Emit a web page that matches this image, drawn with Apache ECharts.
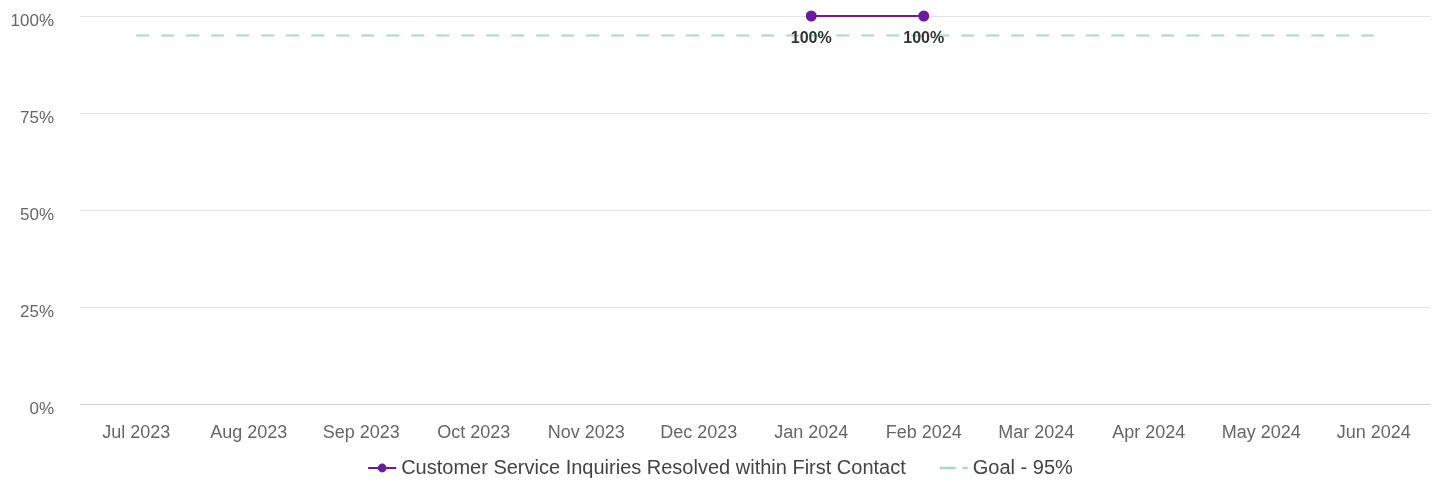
<!DOCTYPE html>
<html>
<head>
<meta charset="utf-8">
<script src="https://cdn.jsdelivr.net/npm/echarts@6/dist/echarts.min.js"></script>
<style>
  html, body { margin: 0; padding: 0; background: #fff; }
  #chart { width: 1440px; height: 491px; }
</style>
</head>
<body>
<div id="chart"></div>
<script>
const months = ["Jul 2023", "Aug 2023", "Sep 2023", "Oct 2023", "Nov 2023", "Dec 2023",
  "Jan 2024", "Feb 2024", "Mar 2024", "Apr 2024", "May 2024", "Jun 2024"];
const resolved = [null, null, null, null, null, null, 100, 100, null, null, null, null];
const goal = [95, 95, 95, 95, 95, 95, 95, 95, 95, 95, 95, 95];
const yTicks = [0, 25, 50, 75, 100];

const chart = echarts.init(document.getElementById("chart"));
const font = "Liberation Sans, Arial, sans-serif";

chart.setOption({
  animation: false,
  textStyle: { fontFamily: font },
  grid: { left: 80, right: 10, top: 16, bottom: 87 },
  legend: {
    bottom: 8,
    itemGap: 34,
    itemWidth: 28,
    itemHeight: 11,
    textStyle: { fontSize: 20, color: "#444", fontFamily: font },
    data: [
      { name: "Customer Service Inquiries Resolved within First Contact" },
      { name: "Goal - 95%", icon: "path://M0,4 L12,4 L12,6 L0,6 Z M17,4 L21,4 L21,6 L17,6 Z" }
    ]
  },
  xAxis: {
    type: "category",
    data: months,
    boundaryGap: true,
    axisLine: { lineStyle: { color: "#d3d3ea" } },
    axisTick: { show: false },
    axisLabel: { color: "#666", fontSize: 18, margin: 20 }
  },
  yAxis: {
    type: "value",
    min: yTicks[0],
    max: yTicks[yTicks.length - 1],
    interval: 25,
    axisLabel: {
      formatter: (v) => "{t|" + v + "%}",
      margin: 26,
      rich: { t: { color: "#666", fontSize: 17, fontFamily: font, padding: [10, 0, 0, 0] } }
    },
    splitLine: { lineStyle: { color: "#e3e3f0" } }
  },
  series: [
    {
      name: "Customer Service Inquiries Resolved within First Contact",
      type: "line",
      data: resolved,
      color: "#6c1a9e",
      symbol: "circle",
      symbolSize: 11,
      lineStyle: { width: 2 },
      z: 3,
      label: {
        show: true,
        position: "bottom",
        distance: 9,
        formatter: "{c}%",
        color: "#333",
        fontSize: 16,
        fontWeight: "bold"
      }
    },
    {
      name: "Goal - 95%",
      type: "line",
      data: goal,
      color: "#a3dec3",
      symbol: "none",
      lineStyle: { type: [13, 12], width: 2 },
      z: 2
    }
  ]
});
</script>
</body>
</html>
